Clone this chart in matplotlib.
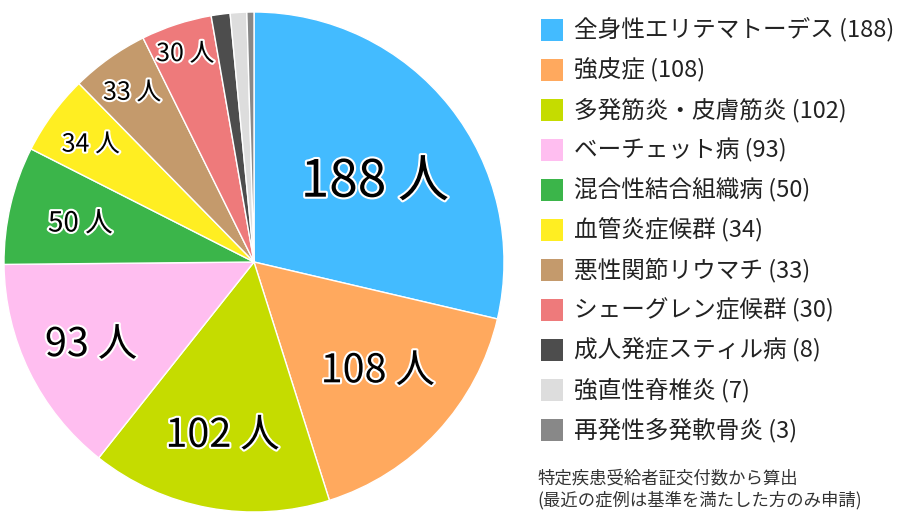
import matplotlib.pyplot as plt
import matplotlib.patheffects as pe
from matplotlib.patches import Rectangle
import numpy as np

plt.rcParams['font.family'] = ['Noto Sans CJK JP', 'DejaVu Sans']

diseases = ["全身性エリテマトーデス", "強皮症", "多発筋炎・皮膚筋炎", "ベーチェット病",
            "混合性結合組織病", "血管炎症候群", "悪性関節リウマチ", "シェーグレン症候群",
            "成人発症スティル病", "強直性脊椎炎", "再発性多発軟骨炎"]
counts = [188, 108, 102, 93, 50, 34, 33, 30, 8, 7, 3]
colors = ["#43BBFF", "#FFA95E", "#C5DC00", "#FFBEF0", "#3BB54A", "#FFEE22",
          "#C49A6C", "#EE7A7B", "#4D4D4D", "#DDDDDD", "#888888"]
note = ["特定疾患受給者証交付数から算出", "(最近の症例は基準を満たした方のみ申請)"]

W, H = 923, 524
fig = plt.figure(figsize=(W / 100, H / 100), dpi=100)

# pie area in pixels: centre (254, 262), radius 250
cx, cy, r = 254, 262, 250
ax = fig.add_axes([(cx - r) / W, (H - cy - r) / H, 2 * r / W, 2 * r / H])
ax.pie(counts, colors=colors, startangle=90, counterclock=False, radius=1,
       wedgeprops=dict(edgecolor="white", linewidth=1))
ax.set_xlim(-1, 1)
ax.set_ylim(-1, 1)
ax.set_aspect("equal")
ax.axis("off")

# slice labels (only for the bigger slices)
label_r = [0.589, 0.652, 0.693, 0.725, 0.713, 0.809, 0.841, 0.884]
label_da = [3.6, -2.3, 0, 0, 0, 0, 0, 0]   # small angle tweaks, degrees
label_fs = [37, 28.5, 28.5, 28.5, 20, 18, 18, 18]
total = sum(counts)
cum = np.cumsum([0] + counts)
for i in range(len(label_r)):
    mid = (cum[i] + counts[i] / 2) / total * 2 * np.pi + np.radians(label_da[i])
    x = np.sin(mid) * label_r[i]
    y = np.cos(mid) * label_r[i]
    # baseline shift so the digits are centred on the point
    shift = 0.365 * label_fs[i] * 100 / 72 / r
    ax.text(x, y - shift, f"{counts[i]} 人", ha="center", va="baseline",
            fontsize=label_fs[i], color="black",
            path_effects=[pe.withStroke(linewidth=3, foreground="white")])

# legend
for i, (name, c, col) in enumerate(zip(diseases, counts, colors)):
    ytop = 19 + i * 40
    fig.patches.append(Rectangle((541 / W, 1 - (ytop + 22) / H), 22 / W, 22 / H,
                                 transform=fig.transFigure, facecolor=col,
                                 edgecolor="none"))
    fig.text(574 / W, 1 - (ytop + 11) / H, f"{name} ({c})", ha="left",
             va="center", fontsize=17, color="#222222")

for j, line in enumerate(note):
    fig.text(537 / W, 1 - (478 + j * 22) / H, line, ha="left", va="center",
             fontsize=12.5, color="#333333")

fig.savefig("out.png", dpi=100)
